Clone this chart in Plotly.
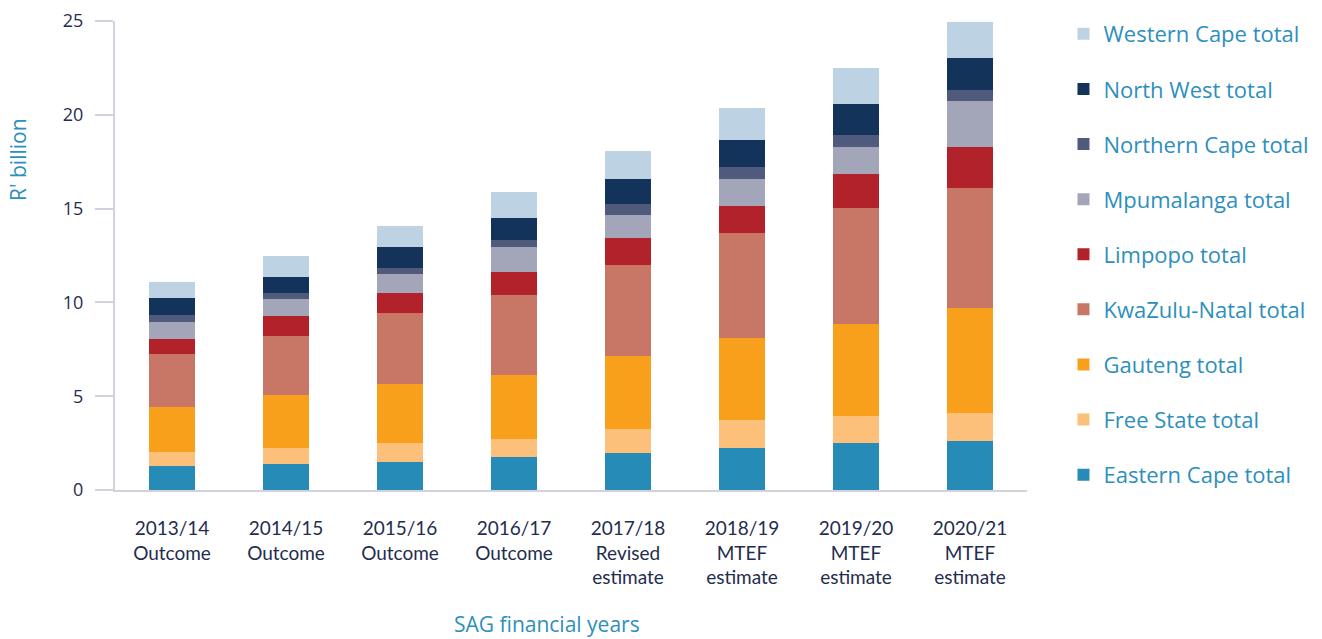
import plotly.graph_objects as go

categories = ["2013/14<br>Outcome", "2014/15<br>Outcome", "2015/16<br>Outcome", "2016/17<br>Outcome",
              "2017/18<br>Revised<br>estimate", "2018/19<br>MTEF<br>estimate",
              "2019/20<br>MTEF<br>estimate", "2020/21<br>MTEF<br>estimate"]

eastern_cape = [1.26, 1.39, 1.49, 1.76, 1.99, 2.25, 2.49, 2.61]
free_state = [0.76, 0.85, 1.01, 0.97, 1.26, 1.48, 1.47, 1.48]
gauteng = [2.42, 2.81, 3.15, 3.40, 3.87, 4.37, 4.87, 5.59]
kwazulu_natal = [2.81, 3.15, 3.78, 4.26, 4.87, 5.59, 6.19, 6.41]
limpopo = [0.79, 1.09, 1.07, 1.21, 1.44, 1.44, 1.80, 2.20]
mpumalanga = [0.91, 0.87, 0.99, 1.35, 1.22, 1.44, 1.47, 2.43]
northern_cape = [0.37, 0.35, 0.37, 0.37, 0.60, 0.64, 0.61, 0.61]
north_west = [0.91, 0.86, 1.07, 1.19, 1.32, 1.44, 1.68, 1.70]
western_cape = [0.87, 1.10, 1.12, 1.35, 1.49, 1.70, 1.94, 1.92]

series = [
    ("Eastern Cape total", eastern_cape, "#278bb7"),
    ("Free State total", free_state, "#fcc07a"),
    ("Gauteng total", gauteng, "#f89f1c"),
    ("KwaZulu-Natal total", kwazulu_natal, "#c87666"),
    ("Limpopo total", limpopo, "#b1222b"),
    ("Mpumalanga total", mpumalanga, "#a3a6b8"),
    ("Northern Cape total", northern_cape, "#4f5a7d"),
    ("North West total", north_west, "#13335b"),
    ("Western Cape total", western_cape, "#bdd2e2"),
]

FONT = "Lato"
TFONT = "Open Sans"
TEAL = "#2d8fbc"
NAVY = "#1f2d4f"
AXIS = "#d2d2dd"

fig = go.Figure()
n = len(series)
for i, (name, vals, col) in enumerate(series):
    fig.add_trace(go.Bar(x=categories, y=vals, name=name, marker=dict(color=col, line=dict(width=0)),
                         legendgroup=str(i), legendrank=100 * (n - i)))

L, R, T, B = 115, 295, 21, 149
PW = 1322 - L - R
PH = 639 - T - B

fig.update_layout(
    barmode="stack",
    bargap=0.6,
    width=1322, height=639,
    margin=dict(l=L, r=R, t=T, b=B, autoexpand=False),
    plot_bgcolor="white", paper_bgcolor="white",
    font=dict(family=FONT, color=NAVY),
    showlegend=True,
    legend=dict(traceorder="grouped", tracegroupgap=23.5, maxheight=630,
                font=dict(size=22, color=TEAL, family=TFONT),
                x=1.04, xanchor="left", y=1.017, yanchor="top",
                itemwidth=30, bgcolor="rgba(0,0,0,0)"),
    xaxis=dict(showline=True, linecolor=AXIS, linewidth=2, showgrid=False,
               ticks="", tickfont=dict(size=19, color=NAVY), ticklabelstandoff=20,
               range=[-0.5, 7.5]),
    yaxis=dict(showline=True, linecolor=AXIS, linewidth=2, showgrid=False,
               range=[0, 25], tickvals=[0, 5, 10, 15, 20, 25], ticks="outside", ticklen=18,
               tickcolor=AXIS, tickwidth=2, ticklabelstandoff=8,
               tickfont=dict(size=18, color=NAVY, family=TFONT)),
    annotations=[
        dict(text="R' billion", textangle=-90, x=(18 - L) / PW, y=(490 - 160) / PH,
             xref="paper", yref="paper", xanchor="center", yanchor="middle",
             showarrow=False, font=dict(size=21, color=TEAL, family=TFONT)),
        dict(text="SAG financial years", x=(547 - L) / PW, y=(490 - 624) / PH,
             xref="paper", yref="paper", xanchor="center", yanchor="middle",
             showarrow=False, font=dict(size=21, color=TEAL, family=TFONT)),
    ],
)

fig.write_html("out.html")
